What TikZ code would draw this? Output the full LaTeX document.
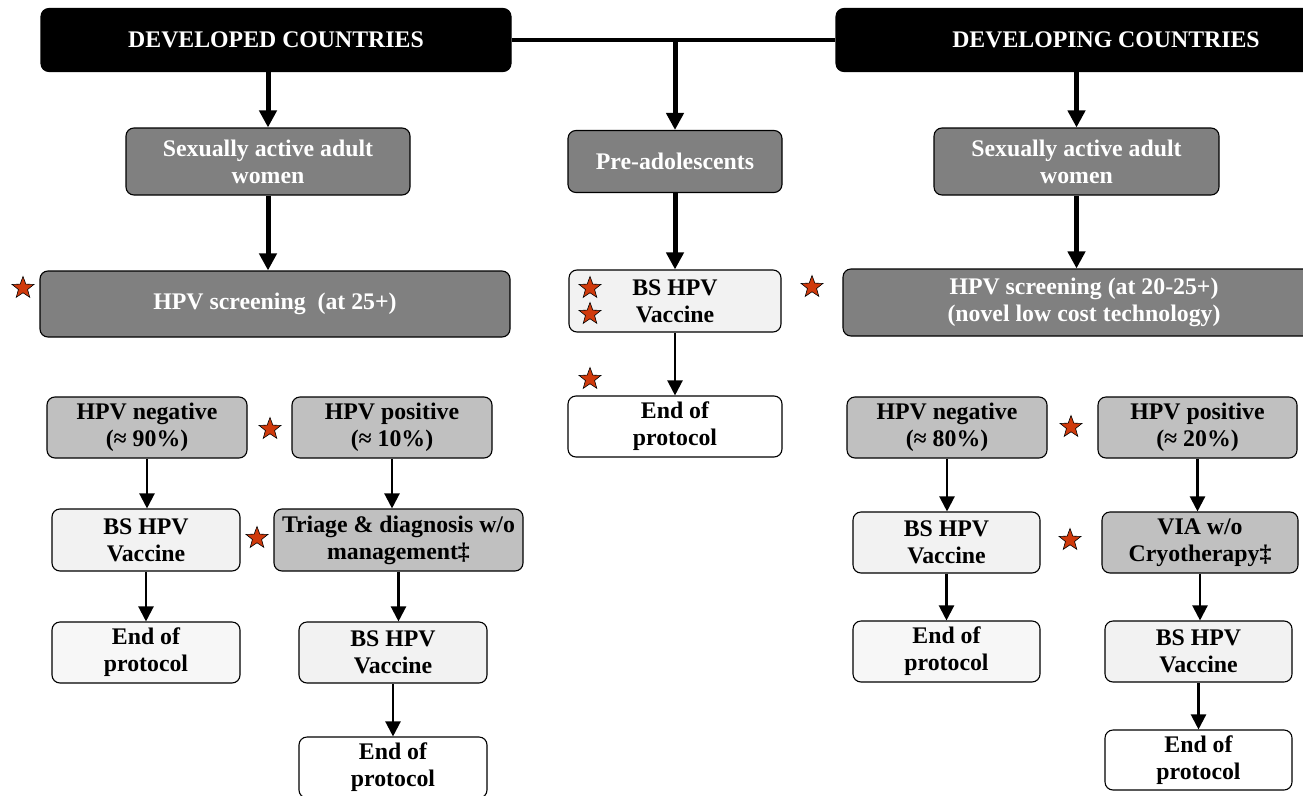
\documentclass[tikz,border=0pt]{standalone}
\usepackage{fontspec}
\setmainfont{Liberation Serif}
\usetikzlibrary{arrows.meta, shapes.geometric}
\definecolor{cdark}{HTML}{808080}
\definecolor{cmid}{HTML}{C0C0C0}
\definecolor{clight}{HTML}{F2F2F2}
\definecolor{cpale}{HTML}{F7F7F7}
\definecolor{cstar}{HTML}{D03A0C}
\tikzset{
  every picture/.style={font=\bfseries\fontsize{23.8}{27}\selectfont, line width=1.1pt},
  box/.style={draw=black, fill=#1, rounded corners=8pt, align=center, inner sep=2pt},
  box/.default=white,
  headbox/.style={box=black, text=white},
  darkbox/.style={box=cdark, text=white},
  midbox/.style={box=cmid},
  lightbox/.style={box=clight},
  bigarrow/.style={-{Triangle[length=17pt, width=17pt]}, line width=5pt},
  arrow/.style={-{Triangle[length=15pt, width=15pt]}, line width=2.2pt},
  redstar/.style={star, star points=5, star point ratio=2.4, draw=black, fill=cstar, minimum size=23pt, inner sep=0pt, line width=0.6pt},
}
\begin{document}
\begin{tikzpicture}[x=1pt, y=-1pt]
  \useasboundingbox (0,0) rectangle (1303,795);
  % the two headers
  \node[headbox, minimum width=470pt, minimum height=63pt] (dev) at (276,40) {DEVELOPED COUNTRIES};
  \node[headbox, minimum width=540pt, minimum height=63pt] (dvg) at (1106,40) {DEVELOPING COUNTRIES};
  % target groups
  \node[darkbox, minimum width=284pt, minimum height=67pt] (devadult) at (268,161.5) {Sexually active adult\\ women};
  \node[darkbox, minimum width=214pt, minimum height=62pt] (pre) at (675,161.5) {Pre-adolescents};
  \node[darkbox, minimum width=285pt, minimum height=67pt] (dvgadult) at (1076.5,161.5) {Sexually active adult\\ women};
  % screening and vaccine
  \node[darkbox, minimum width=470pt, minimum height=66pt] (devscr) at (275,304) {HPV screening~ (at 25+)};
  \node[lightbox, minimum width=212pt, minimum height=62pt] (prevac) at (675,301) {BS HPV\\ Vaccine};
  \node[darkbox, minimum width=482pt, minimum height=67pt] (dvgscr) at (1084,302.5) {HPV screening (at 20-25+)\\ (novel low cost technology)};
  \node[box, minimum width=214pt, minimum height=61pt] (preend) at (675,426.5) {End of\\ protocol};
  % developed countries branch
  \node[midbox, minimum width=200pt, minimum height=61pt] (devneg) at (147,427.5) {HPV negative\\ (≈ 90\%)};
  \node[midbox, minimum width=200pt, minimum height=61pt] (devpos) at (392,427.5) {HPV positive\\ (≈ 10\%)};
  \node[lightbox, minimum width=188pt, minimum height=62pt] (devvac) at (146,540) {BS HPV\\ Vaccine};
  \node[midbox, minimum width=249pt, minimum height=62pt] (devtri) at (398.5,540) {Triage \& diagnosis w/o\\ management‡};
  \node[box=cpale, minimum width=188pt, minimum height=61pt] (devend) at (146,652.5) {End of\\ protocol};
  \node[lightbox, minimum width=188pt, minimum height=61pt] (devvac2) at (393,652.5) {BS HPV\\ Vaccine};
  \node[box, minimum width=188pt, minimum height=61pt] (devend2) at (393,767.5) {End of\\ protocol};
  % developing countries branch
  \node[midbox, minimum width=200pt, minimum height=61pt] (dvgneg) at (947,427.5) {HPV negative\\ (≈ 80\%)};
  \node[midbox, minimum width=199pt, minimum height=61pt] (dvgpos) at (1197.5,427.5) {HPV positive\\ (≈ 20\%)};
  \node[lightbox, minimum width=187pt, minimum height=61pt] (dvgvac) at (946.5,542.5) {BS HPV\\ Vaccine};
  \node[midbox, minimum width=196pt, minimum height=61pt] (dvgvia) at (1200,542.5) {VIA w/o\\ Cryotherapy‡};
  \node[box=cpale, minimum width=187pt, minimum height=61pt] (dvgend) at (946.5,651.5) {End of\\ protocol};
  \node[lightbox, minimum width=187pt, minimum height=61pt] (dvgvac2) at (1198.5,651.5) {BS HPV\\ Vaccine};
  \node[box, minimum width=187pt, minimum height=60pt] (dvgend2) at (1198.5,760) {End of\\ protocol};
  % stars
  \node[redstar] (s1) at (23,288) {};
  \node[redstar] (s2) at (812,287) {};
  \node[redstar] (s3) at (590,288) {};
  \node[redstar] (s4) at (590,314) {};
  \node[redstar] (s5) at (590,379) {};
  \node[redstar] (s6) at (270,429) {};
  \node[redstar] (s7) at (257,538) {};
  \node[redstar] (s8) at (1071,427) {};
  \node[redstar] (s9) at (1070,540) {};
  % connectors
  \draw[line width=4.5pt] (dev.east) -- (dvg.west);
  \coordinate (split) at (pre.north |- dev.east);
  \draw[bigarrow] (split) -- (pre.north);
  \draw[bigarrow] (devadult.north |- dev.south) -- (devadult.north);
  \draw[bigarrow] (dvgadult.north |- dvg.south) -- (dvgadult.north);
  \foreach \a/\b in {devadult/devscr,pre/prevac,dvgadult/dvgscr} \draw[bigarrow] (\a.south) -- (\a.south |- \b.north);
  \foreach \a/\b in {prevac/preend,devneg/devvac,devpos/devtri,devvac/devend,devtri/devvac2,devvac2/devend2,dvgneg/dvgvac,dvgpos/dvgvia,dvgvac/dvgend,dvgvia/dvgvac2,dvgvac2/dvgend2}
    \draw[arrow] (\a.south) -- (\a.south |- \b.north);
\end{tikzpicture}
\end{document}
